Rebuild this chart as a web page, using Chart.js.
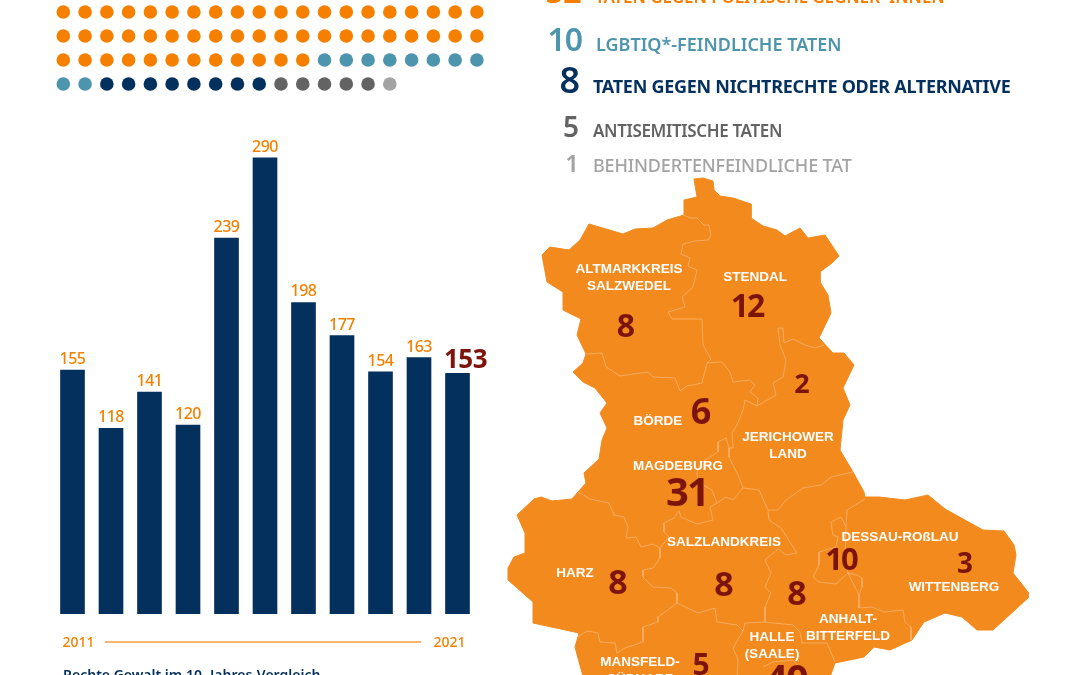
<!DOCTYPE html>
<html>
<head>
<meta charset="utf-8">
<title>Rechte Gewalt</title>
<script src="https://cdn.jsdelivr.net/npm/chart.js@4"></script>
<style>
  html, body { margin: 0; padding: 0; background: #fff; overflow: hidden; }
  canvas { position: absolute; }
</style>
</head>
<body>
<canvas id="dots" style="left:0;top:0" width="520" height="110"></canvas>
<canvas id="bars" style="left:0;top:100px" width="520" height="575"></canvas>
<canvas id="map" style="left:500px;top:0" width="580" height="675"></canvas>
<script>
'use strict';

// Taten nach Motiv
let motive=['TATEN GEGEN POLITISCHE GEGNER*INNEN','LGBTIQ*-FEINDLICHE TATEN','TATEN GEGEN NICHTRECHTE ODER ALTERNATIVE','ANTISEMITISCHE TATEN','BEHINDERTENFEINDLICHE TAT'];
let motiveCounts=[52,10,8,5,1];
let motiveColors=['#f58000','#4d95ad','#04305e','#636363','#a3a3a3'];
let dotsPerRow=20;

// Jahresvergleich
let years=['2011','2012','2013','2014','2015','2016','2017','2018','2019','2020','2021'];
let attacks=[155,118,141,120,239,290,198,177,154,163,153];
let caption='Rechte Gewalt im 10- Jahres-Vergleich';

// Kreise
let regionLabels=[['ALTMARKKREIS','SALZWEDEL'],['STENDAL'],['BÖRDE'],['JERICHOWER','LAND'],['MAGDEBURG'],['SALZLANDKREIS'],['HARZ'],['DESSAU-ROßLAU'],['WITTENBERG'],['ANHALT-','BITTERFELD'],['HALLE','(SAALE)'],['MANSFELD-','SÜDHARZ']];
let regionValues=[8,12,6,2,31,8,8,10,3,8,40,5];

// where the texts go, page coordinates
let labelPos=[[629,273],[755,281],[658,425],[788,441],[678,470],[724,546],[575,577],[900,541],[954,591],[848,623],[772,641],[640,666]];
let valuePos=[[626,337],[747,317],[701,424],[802,393],[687,506],[724,596],[618,594],[841,570],[965,573],[797,605],[786,693],[701,675]];
let valueSize=[32,32,36,27,40,34,34,31,28,34,40,30];
let legendSize=[17,18,18,17,18];
let legendNumSize=[33,32,36,28,24];
let legendNumSpacing=[-1,-1,0,0,0];
let legendNumRight=[581,582,580,579,579];
let legendBase=[3,51,93,137,172];
let legendLabelX=[595,596,593,593,593];
let legendWeight=[600,600,700,600,500];
let legendSpacing=[-0.1,0,-0.28,-0.35,-0.15];

// map shape, page coordinates
let mapOutline=[[694,179],[703,178],[713,181],[714,190],[720,196],[733,198],[751,204],[751,218],[763,226],[777,230],[785,236],[800,228],[808,238],[825,235],[839,256],[832,263],[820,272],[820,282],[828,295],[831,313],[819,338],[833,353],[844,353],[854,365],[843,388],[850,405],[843,420],[840,450],[853,472],[864,492],[865,497],[879,497],[905,500],[928,495],[945,509],[983,530],[1004,531],[1014,545],[1016,555],[1013,573],[1028,592],[1028,598],[993,630],[977,630],[962,617],[945,613],[924,622],[912,640],[890,650],[874,647],[864,657],[835,663],[829,680],[584,680],[575,647],[579,633],[533,623],[533,602],[508,580],[508,568],[514,557],[525,553],[525,533],[517,515],[534,499],[541,497],[552,501],[572,499],[578,492],[586,483],[584,473],[599,459],[602,440],[607,428],[600,413],[607,403],[595,388],[583,382],[573,372],[583,363],[586,354],[577,335],[581,319],[563,310],[563,292],[547,282],[542,255],[550,247],[569,250],[580,240],[589,224],[623,234],[635,229],[653,228],[667,220],[684,215],[684,200],[697,197]];
let mapBorders=[
  [[684,215],[690,218],[697,218],[704,225],[709,225],[711,235],[708,240],[695,241],[683,244],[681,254],[690,258],[688,266],[697,270],[693,287],[682,297],[685,307],[668,312],[672,319],[702,319],[703,345],[711,359],[707,363]],
  [[586,354],[602,353],[606,367],[620,376],[633,374],[648,372],[653,377],[675,378],[680,391],[687,386],[702,383],[707,363]],
  [[707,363],[722,362],[730,372],[733,382],[750,380],[755,385],[750,392],[758,398],[757,406]],
  [[824,345],[815,348],[805,345],[793,339],[784,343],[783,328],[778,328],[780,345],[786,360],[783,377],[773,383],[776,395],[757,406]],
  [[757,406],[745,400],[743,410],[737,425],[732,433],[733,448],[729,448],[729,457],[738,475],[743,488]],
  [[718,442],[726,438],[729,448]],
  [[718,442],[718,452],[702,462],[697,472],[698,482],[712,490],[717,503]],
  [[743,488],[733,500],[726,497],[717,503],[710,507],[713,520],[697,524],[681,517],[679,511],[674,518],[664,523],[664,532],[669,537],[660,548]],
  [[743,488],[759,490],[768,510],[778,510],[786,500],[803,488],[821,485],[831,477],[853,472]],
  [[768,511],[769,520],[781,528],[797,553],[786,555],[778,549],[765,560],[771,573],[765,587],[771,593],[765,607],[765,622],[793,625],[800,632],[802,643],[827,643],[835,662]],
  [[677,603],[698,613],[715,608],[717,622],[737,625],[743,631],[733,648],[738,660],[737,680]],
  [[743,631],[745,623],[765,622]],
  [[763,667],[773,662],[793,660],[798,666]],
  [[677,603],[658,617],[658,622],[643,627],[643,642],[625,648],[617,653],[615,643],[600,642],[598,633],[587,631],[578,637]],
  [[660,548],[660,558],[653,568],[643,570],[643,577],[653,587],[671,588],[677,593],[677,603]],
  [[578,492],[590,499],[609,503],[614,515],[624,517],[628,527],[626,538],[636,537],[641,547],[653,544],[660,548]],
  [[865,499],[847,510],[846,527],[841,517],[831,522],[833,535],[838,537],[836,547],[819,552],[819,565],[813,577],[819,582],[836,584],[848,573],[857,575],[862,578],[862,587],[859,595]],
  [[846,527],[845,560],[848,573],[859,595],[859,608],[872,607],[884,612],[903,610],[905,622],[911,627],[911,640]]
];

let textFont='"Noto Sans"';
let mapFont='"Liberation Sans"';
let darkRed='#7d140b';
let orange='#f58000';

function drawText(ctx,text,x,y,font,color,align,spacing){
  ctx.save();
  ctx.font=font;
  ctx.fillStyle=color;
  ctx.textAlign=align||'left';
  ctx.textBaseline='alphabetic';
  ctx.letterSpacing=(spacing||0)+'px';
  ctx.fillText(text,x,y);
  ctx.restore();
}

// dot matrix, one dot for every case
let dotSets=[];
let dotIndex=0;
for(let i=0;i<motiveCounts.length;i++){
  let pts=[];
  for(let j=0;j<motiveCounts[i];j++){
    pts.push({x:dotIndex%dotsPerRow,y:Math.floor(dotIndex/dotsPerRow)});
    dotIndex++;
  }
  dotSets.push({label:motive[i],data:pts,backgroundColor:motiveColors[i],pointRadius:6.8,borderWidth:0});
}
new Chart(document.getElementById('dots'),{
  type:'scatter',
  data:{datasets:dotSets},
  options:{
    responsive:false,
    animation:false,
    layout:{autoPadding:false},
    plugins:{legend:{display:false},tooltip:{enabled:false}},
    scales:{
      x:{display:false,min:-2.908,max:20.98},
      y:{display:false,reverse:true,min:-0.5,max:4.083}
    }
  }
});

// bars
let barLabels={
  id:'barLabels',
  afterDatasetsDraw(chart){
    let ctx=chart.ctx;
    let els=chart.getDatasetMeta(0).data;
    for(let i=0;i<els.length;i++){
      if(i===els.length-1){
        drawText(ctx,attacks[i],els[i].x+8,els[i].y-5,'700 26px '+textFont,darkRed,'center',-0.5);
      }else{
        drawText(ctx,attacks[i],els[i].x,els[i].y-6,'500 16px '+textFont,orange,'center',-0.5);
      }
    }
    // 2011 ---- 2021
    let y=542;
    let first=chart.scales.x.getPixelForValue(0);
    let last=chart.scales.x.getPixelForValue(10);
    drawText(ctx,years[0],first+6,y+5,'500 14px '+textFont,orange,'center');
    drawText(ctx,years[10],last-8,y+5,'500 14px '+textFont,orange,'center');
    ctx.save();
    ctx.strokeStyle='#f8a13f';
    ctx.lineWidth=1.4;
    ctx.beginPath();
    ctx.moveTo(105,y);
    ctx.lineTo(421,y);
    ctx.stroke();
    ctx.restore();
    drawText(ctx,caption,63,580,'600 14px '+textFont,'#04305e','left');
  }
};
new Chart(document.getElementById('bars'),{
  type:'bar',
  data:{
    labels:years,
    datasets:[{label:'Rechte Gewalt',data:attacks,backgroundColor:'#04305e',barThickness:24}]
  },
  options:{
    responsive:false,
    animation:false,
    layout:{autoPadding:false,padding:{left:53.25,right:43.25,top:42,bottom:61}},
    plugins:{legend:{display:false},tooltip:{enabled:false}},
    scales:{
      x:{display:false},
      y:{display:false,min:0,max:300}
    }
  },
  plugins:[barLabels]
});

// map and legend texts, outline has to sit behind the borders
let mapSets=[{data:mapOutline.map(p=>({x:p[0],y:p[1]})).concat([{x:mapOutline[0][0],y:mapOutline[0][1]}]),
  showLine:true,fill:'shape',backgroundColor:'#f28a1e',borderColor:'#f28a1e',borderWidth:1,pointRadius:0,order:9}];
for(let i=0;i<mapBorders.length;i++){
  mapSets.push({data:mapBorders[i].map(p=>({x:p[0],y:p[1]})),showLine:true,fill:false,borderColor:'#f8b46f',borderWidth:0.8,pointRadius:0,order:1});
}
let mapTexts={
  id:'mapTexts',
  afterDatasetsDraw(chart){
    let ctx=chart.ctx;
    let ox=-500;
    for(let i=0;i<regionLabels.length;i++){
      for(let j=0;j<regionLabels[i].length;j++){
        drawText(ctx,regionLabels[i][j],labelPos[i][0]+ox,labelPos[i][1]+j*16.5,'bold 13.5px '+mapFont,'#fff','center');
      }
      let sp=String(regionValues[i]).length>1?-2:0;
      drawText(ctx,regionValues[i],valuePos[i][0]+ox,valuePos[i][1],'700 '+valueSize[i]+'px '+textFont,darkRed,'center',sp);
    }
    for(let i=0;i<motive.length;i++){
      drawText(ctx,motiveCounts[i],legendNumRight[i]+ox,legendBase[i],'600 '+legendNumSize[i]+'px '+textFont,motiveColors[i],'right',legendNumSpacing[i]);
      drawText(ctx,motive[i],legendLabelX[i]+ox,legendBase[i],legendWeight[i]+' '+legendSize[i]+'px '+textFont,motiveColors[i],'left',legendSpacing[i]);
    }
  }
};
new Chart(document.getElementById('map'),{
  type:'scatter',
  data:{datasets:mapSets},
  options:{
    responsive:false,
    animation:false,
    layout:{autoPadding:false},
    plugins:{legend:{display:false},tooltip:{enabled:false}},
    scales:{
      x:{display:false,min:500,max:1080},
      y:{display:false,reverse:true,min:0,max:675}
    }
  },
  plugins:[mapTexts]
});
</script>
</body>
</html>
